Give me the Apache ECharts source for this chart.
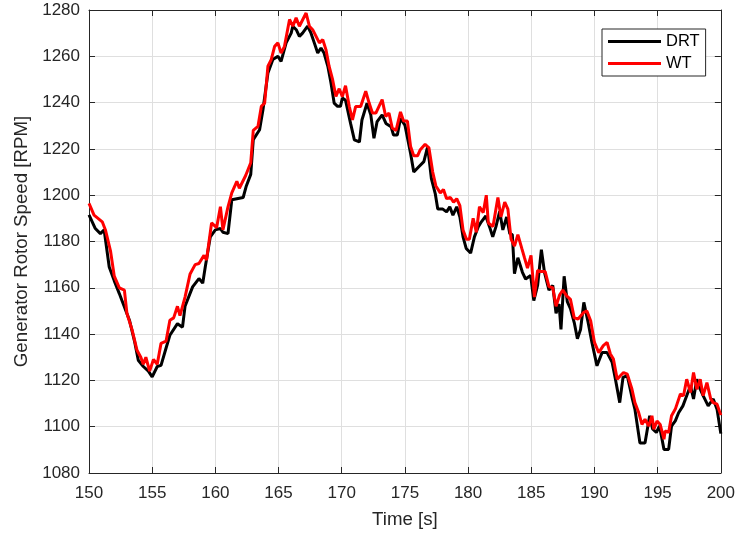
<!DOCTYPE html>
<html>
<head>
<meta charset="utf-8">
<script src="https://cdn.jsdelivr.net/npm/echarts@6/dist/echarts.min.js"></script>
<style>
  html, body { margin: 0; padding: 0; background: #fff; }
  #chart { width: 738px; height: 536px; }
</style>
</head>
<body>
<div id="chart"></div>
<script>
// Generator rotor speed, DRT vs WT, 150–200 s
const drtTime = [150, 150.5, 150.9, 151.2, 151.6, 152, 152.4, 152.6, 153.2, 153.6, 153.9, 154.3, 154.7, 155, 155.4, 155.7, 156.1, 156.4, 157, 157.4, 157.6, 158.2, 158.7, 159, 159.2, 159.6, 160, 160.4, 160.6, 161, 161.3, 161.8, 162.2, 162.45, 162.8, 163, 163.5, 163.77, 164.16, 164.55, 164.95, 165.2, 165.6, 166, 166.13, 166.4, 166.65, 166.9, 167.3, 167.57, 167.83, 168.1, 168.36, 168.6, 168.9, 169.15, 169.4, 169.67, 169.9, 170.05, 170.3, 170.7, 171, 171.4, 171.6, 172, 172.3, 172.55, 172.8, 173.2, 173.5, 173.9, 174.1, 174.4, 174.65, 175, 175.45, 175.7, 176.1, 176.5, 176.8, 177.1, 177.4, 177.6, 178, 178.3, 178.55, 178.8, 179.1, 179.35, 179.6, 179.85, 180.2, 180.5, 180.8, 181.05, 181.4, 181.7, 181.95, 182.2, 182.5, 182.75, 183.05, 183.3, 183.5, 183.67, 183.94, 184.3, 184.55, 184.95, 185.2, 185.5, 185.8, 186.05, 186.4, 186.7, 186.96, 187.2, 187.35, 187.6, 187.85, 188.1, 188.4, 188.65, 188.9, 189.16, 189.5, 189.8, 190.2, 190.6, 191, 191.4, 191.66, 192, 192.26, 192.6, 193, 193.2, 193.6, 194, 194.37, 194.6, 194.9, 195.15, 195.5, 195.87, 196.1, 196.4, 196.66, 197, 197.3, 197.6, 197.84, 198.1, 198.37, 198.6, 199, 199.4, 199.7, 200];
const drtRpm = [1191.5, 1185.6, 1183.4, 1185, 1169, 1163, 1157.5, 1154.6, 1146, 1137, 1128.7, 1126, 1124, 1121.5, 1126, 1126.5, 1134, 1139.5, 1144.5, 1143, 1152, 1160.4, 1164, 1162, 1169, 1182, 1185, 1185.6, 1184, 1183.4, 1198, 1198.6, 1199, 1204, 1209, 1224, 1228.3, 1237, 1252.8, 1258.6, 1260, 1257.8, 1265.8, 1270, 1273, 1271.5, 1268.6, 1270, 1273, 1270, 1265.8, 1261.4, 1263.6, 1261.4, 1255.7, 1248.5, 1239.8, 1238.4, 1238.4, 1242, 1241, 1231, 1223.9, 1223, 1232.5, 1239.7, 1234.7, 1224.6, 1231.8, 1234.7, 1231, 1229.6, 1226, 1226, 1233.2, 1230.3, 1218, 1210, 1212.3, 1214.5, 1221, 1207, 1200.7, 1194, 1194, 1192.8, 1195, 1191.4, 1195, 1190.6, 1182, 1177, 1175, 1182, 1186.3, 1188.5, 1191, 1186.3, 1182, 1186.3, 1193, 1185, 1190.6, 1183.4, 1183, 1166.1, 1173, 1166.7, 1163.8, 1165.3, 1154.5, 1161, 1176.5, 1166.5, 1159, 1161, 1149, 1153, 1142, 1165, 1154, 1151, 1145, 1138, 1142, 1153.7, 1145, 1136.4, 1126.3, 1132, 1132, 1127.8, 1120.5, 1110.4, 1121.3, 1122, 1112, 1107.6, 1093, 1093, 1104.7, 1099, 1097.5, 1100.3, 1090.2, 1090.2, 1100.3, 1102.5, 1106, 1109, 1113.4, 1117.7, 1112, 1120.5, 1116.2, 1113.4, 1109, 1112, 1107.6, 1097];

const wtTime = [150, 150.4, 151.05, 151.3, 151.7, 152, 152.4, 152.8, 153, 153.4, 153.8, 154.1, 154.3, 154.5, 154.8, 155.1, 155.4, 155.7, 156.1, 156.4, 156.7, 157, 157.2, 157.6, 158, 158.4, 158.7, 159.1, 159.3, 159.7, 160.1, 160.4, 160.6, 161, 161.3, 161.7, 161.9, 162.4, 162.8, 163, 163.37, 163.64, 163.9, 164.16, 164.42, 164.69, 164.95, 165.2, 165.47, 165.87, 166.13, 166.39, 166.65, 166.92, 167.18, 167.44, 167.7, 167.97, 168.23, 168.5, 168.75, 169, 169.28, 169.54, 169.8, 170.05, 170.3, 170.6, 170.85, 171.1, 171.5, 171.9, 172.17, 172.43, 172.7, 172.95, 173.2, 173.48, 173.74, 174, 174.3, 174.65, 174.9, 175.2, 175.45, 175.7, 176, 176.2, 176.6, 176.9, 177.2, 177.45, 177.8, 178.05, 178.3, 178.6, 178.85, 179.1, 179.35, 179.6, 179.87, 180.1, 180.4, 180.65, 180.9, 181.2, 181.44, 181.6, 181.97, 182.36, 182.6, 182.9, 183.15, 183.4, 183.67, 183.94, 184.25, 184.46, 184.7, 184.98, 185.25, 185.5, 185.77, 186.1, 186.4, 186.7, 186.96, 187.25, 187.5, 187.8, 188.1, 188.4, 188.7, 189.16, 189.4, 189.7, 190, 190.34, 190.7, 191, 191.26, 191.5, 191.8, 192.05, 192.3, 192.6, 192.97, 193.2, 193.5, 193.76, 194, 194.3, 194.55, 194.7, 194.95, 195.2, 195.5, 195.6, 195.87, 196.1, 196.4, 196.8, 197.05, 197.3, 197.6, 197.84, 198.1, 198.37, 198.6, 198.9, 199.2, 199.4, 199.7, 200];
const wtRpm = [1196.5, 1191.4, 1188.5, 1185, 1176, 1165, 1160, 1159, 1149, 1142, 1133, 1130, 1127, 1130, 1124, 1129, 1127, 1136, 1137, 1146, 1147, 1152, 1148, 1156, 1166, 1170, 1170.5, 1174, 1172, 1188, 1186, 1195, 1185, 1195, 1201, 1206, 1203, 1208.5, 1214, 1228, 1229.7, 1238.4, 1239.8, 1255.7, 1258.6, 1264.3, 1265.8, 1261.4, 1264.3, 1275.9, 1273, 1276.6, 1273, 1275.9, 1278.7, 1273, 1271.5, 1268.6, 1265.8, 1267.2, 1262.9, 1255.7, 1249.9, 1242.7, 1246, 1242.6, 1247.3, 1238.3, 1232.5, 1238.3, 1238.3, 1244.9, 1239.8, 1235.5, 1235.5, 1238.4, 1241.3, 1234, 1235.5, 1229, 1228, 1236, 1232, 1232, 1221, 1217, 1217, 1219.5, 1222, 1220.5, 1210, 1204, 1201, 1202.5, 1198.5, 1199, 1197, 1198.5, 1195.5, 1185, 1181, 1181, 1190, 1184, 1195, 1192.5, 1200, 1188, 1186.5, 1199, 1190.6, 1197, 1194, 1181, 1178, 1183, 1177, 1173, 1168.5, 1174, 1156, 1167.5, 1167, 1167, 1160.5, 1160, 1152, 1157, 1159, 1156.5, 1155, 1147, 1146.5, 1149.4, 1150, 1145.8, 1136.4, 1132, 1135, 1136.4, 1131.4, 1129.2, 1120.5, 1122, 1123.4, 1122.7, 1116.2, 1110.4, 1106.1, 1101, 1103.2, 1100.3, 1104.7, 1098.9, 1102.5, 1101, 1094.6, 1098.2, 1097.5, 1104.7, 1107.6, 1114.1, 1113.4, 1120.5, 1114.8, 1123.4, 1116.2, 1120.5, 1113.4, 1119, 1112, 1110.4, 1109.7, 1105];

const seriesNames = ['DRT', 'WT'];
const xTitle = 'Time [s]';
const yTitle = 'Generator Rotor Speed [RPM]';

const FONT = '"Liberation Sans", Arial, Helvetica, sans-serif';
const INK = '#262626';
const GRID = '#dfdfdf';

const toPairs = (ts, vs) => ts.map((t, i) => [t, vs[i]]);
const plain = (v) => String(v);

const boxAxis = (extra) => Object.assign({
  type: 'value',
  axisLine: { show: true, onZero: false, lineStyle: { color: INK, width: 1 } },
  axisTick: { show: true, inside: true, length: 6, lineStyle: { color: INK } },
  axisLabel: { show: false },
  splitLine: { show: false }
}, extra);

const chart = echarts.init(document.getElementById('chart'), null, { renderer: 'canvas' });
chart.setOption({
  animation: false,
  backgroundColor: '#ffffff',
  textStyle: { fontFamily: FONT },
  grid: { left: 89, right: 15, top: 10, bottom: 63, containLabel: false },
  legend: {
    data: seriesNames,
    orient: 'vertical',
    left: 602,
    top: 29,
    icon: 'rect',
    itemWidth: 53,
    itemHeight: 3,
    itemGap: 5,
    padding: [4, 6, 4, 6],
    borderColor: INK,
    borderWidth: 1,
    backgroundColor: '#ffffff',
    textStyle: { fontFamily: FONT, fontSize: 16.5, color: '#000000' }
  },
  xAxis: [
    boxAxis({
      position: 'bottom',
      min: 150, max: 200, interval: 5,
      name: xTitle,
      nameLocation: 'middle',
      nameGap: 37,
      nameTextStyle: { fontFamily: FONT, fontSize: 18.7, color: INK },
      axisLabel: { show: true, margin: 12, fontFamily: FONT, fontSize: 17, color: INK, formatter: plain },
      splitLine: { show: true, lineStyle: { color: GRID, width: 1 } }
    }),
    boxAxis({ position: 'top', min: 150, max: 200, interval: 5 })
  ],
  yAxis: [
    boxAxis({
      position: 'left',
      min: 1080, max: 1280, interval: 20,
      name: yTitle,
      nameLocation: 'middle',
      nameGap: 52,
      nameTextStyle: { fontFamily: FONT, fontSize: 18.7, color: INK },
      axisLabel: { show: true, margin: 9, fontFamily: FONT, fontSize: 17, color: INK, formatter: plain },
      splitLine: { show: true, lineStyle: { color: GRID, width: 1 } }
    }),
    boxAxis({ position: 'right', min: 1080, max: 1280, interval: 20 })
  ],
  series: [
    {
      name: seriesNames[0],
      type: 'line',
      xAxisIndex: 0, yAxisIndex: 0,
      data: toPairs(drtTime, drtRpm),
      showSymbol: false,
      color: '#000000',
      lineStyle: { color: '#000000', width: 3 },
      z: 2
    },
    {
      name: seriesNames[1],
      type: 'line',
      xAxisIndex: 0, yAxisIndex: 0,
      data: toPairs(wtTime, wtRpm),
      showSymbol: false,
      color: '#ff0000',
      lineStyle: { color: '#ff0000', width: 3 },
      z: 3
    }
  ]
});
</script>
</body>
</html>
